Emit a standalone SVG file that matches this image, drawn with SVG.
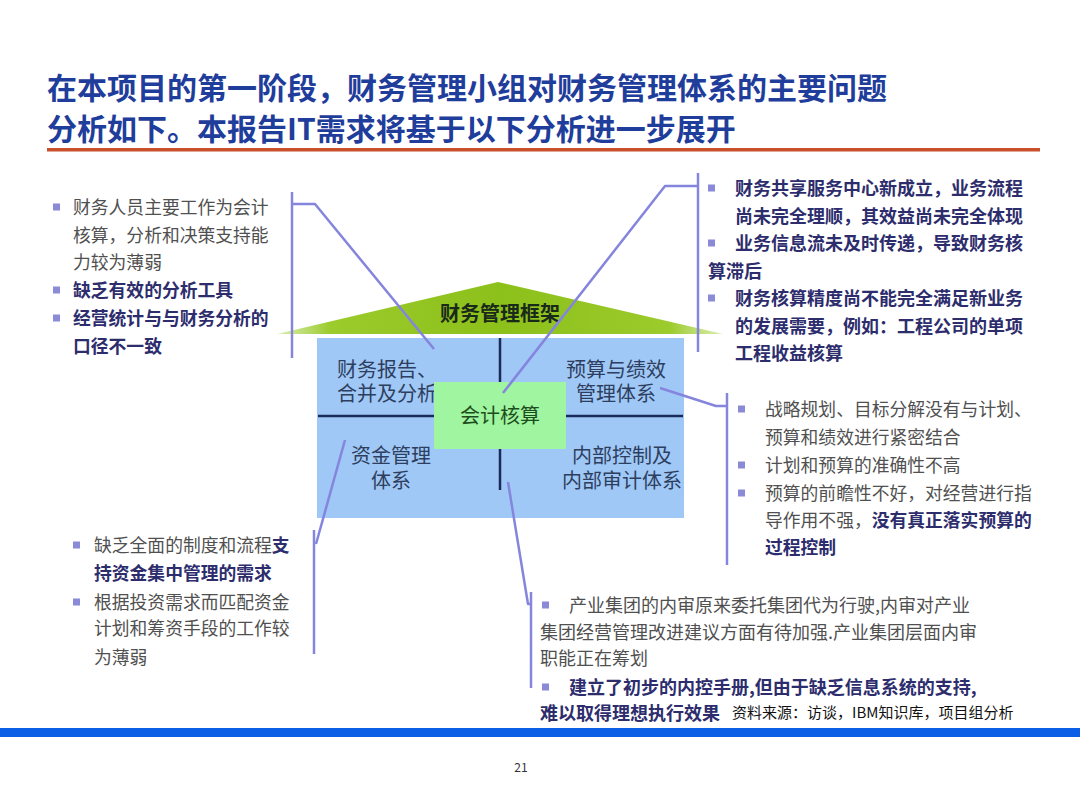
<svg xmlns="http://www.w3.org/2000/svg" width="1080" height="810" viewBox="0 0 1080 810">
<style>
.t{font-family:"Noto Sans CJK SC","Noto Sans",sans-serif}
.title{font-size:30px;font-weight:bold;fill:#1f3d9b}
.n{font-size:17.8px;fill:#505050}
.r{font-size:18px;fill:#505050}
.b{font-weight:bold;fill:#2d2d6d}
.q{font-size:20px;fill:#2e3e5e}
.conn{fill:none;stroke:#8585dd;stroke-width:2.5;stroke-linejoin:round}
.cross{stroke:#1a2a5a;stroke-width:2.5}
.bul{fill:#8a8ad8}
</style>
<defs>
<linearGradient id="roofG" x1="0" y1="0" x2="1" y2="0">
<stop offset="0" stop-color="#dcefb8"/>
<stop offset="0.12" stop-color="#9ccb2c"/>
<stop offset="0.5" stop-color="#8cc01a"/>
<stop offset="0.88" stop-color="#9ccb2c"/>
<stop offset="1" stop-color="#dcefb8"/>
</linearGradient>
</defs>
<rect width="1080" height="810" fill="#ffffff"/>

<g id="title">
<text class="t title" x="47" y="99">在本项目的第一阶段，财务管理小组对财务管理体系的主要问题</text>
<text class="t title" x="47" y="140">分析如下。本报告IT需求将基于以下分析进一步展开</text>
<rect x="47" y="148" width="993" height="3.5" fill="#c9502a"/>
</g>

<g id="framework">
<polygon id="roof" points="277,334 498,282 723,334" fill="url(#roofG)"/>
<text class="t" x="500" y="320.5" text-anchor="middle" font-size="20" font-weight="bold" fill="#1a2a1a">财务管理框架</text>
<rect id="house" x="317" y="338" width="367" height="180" fill="#9fc8f6"/>
<line class="cross" x1="500" y1="338" x2="500" y2="384"/>
<line class="cross" x1="500" y1="448" x2="500" y2="490"/>
<line class="cross" x1="318" y1="416" x2="683" y2="416"/>
<g id="q1"><text class="t q" x="337" y="376.5">财务报告、<tspan x="337" dy="24">合并及分析</tspan></text></g>
<g id="q2"><text class="t q" x="616" y="376.5" text-anchor="middle">预算与绩效<tspan x="616" dy="24">管理体系</tspan></text></g>
<g id="q3"><text class="t q" x="391" y="462.5" text-anchor="middle">资金管理<tspan x="391" dy="25">体系</tspan></text></g>
<g id="q4"><text class="t q" x="622" y="462.5" text-anchor="middle">内部控制及<tspan x="622" dy="25">内部审计体系</tspan></text></g>
<g id="center"><rect x="434" y="382" width="132" height="67" fill="#a0f5a0"/>
<text class="t" x="500" y="423" text-anchor="middle" font-size="20" fill="#1d4d1d">会计核算</text></g>
</g>

<g id="connectors">
<line class="conn" x1="292" y1="192" x2="292" y2="358"/>
<polyline class="conn" points="292,204 315,204 434,349"/>
<line class="conn" x1="698" y1="173" x2="698" y2="352"/>
<polyline class="conn" points="698,186 665,186 503,393"/>
<line class="conn" x1="727" y1="393" x2="727" y2="565"/>
<polyline class="conn" points="660,388 716,406 727,406"/>
<line class="conn" x1="314" y1="530" x2="314" y2="654"/>
<polyline class="conn" points="345,440 316,544"/>
<line class="conn" x1="531" y1="592" x2="531" y2="688"/>
<polyline class="conn" points="508,482 528,604 531,604"/>
</g>

<g id="note-left-top">
<rect class="bul" x="53" y="203.5" width="7" height="7"/>
<rect class="bul" x="53" y="286.5" width="7" height="7"/>
<rect class="bul" x="53" y="314.5" width="7" height="7"/>
<text class="t n" x="73" y="213.5">财务人员主要工作为会计</text>
<text class="t n" x="73" y="241.5">核算，分析和决策支持能</text>
<text class="t n" x="73" y="268.5">力较为薄弱</text>
<text class="t n b" x="73" y="297">缺乏有效的分析工具</text>
<text class="t n b" x="73" y="325">经营统计与与财务分析的</text>
<text class="t n b" x="73" y="352.5">口径不一致</text>
</g>

<g id="note-right-top">
<rect class="bul" x="708" y="184.5" width="7" height="7"/>
<rect class="bul" x="708" y="239.5" width="7" height="7"/>
<rect class="bul" x="708" y="294.5" width="7" height="7"/>
<text class="t r b" x="735" y="195">财务共享服务中心新成立，业务流程</text>
<text class="t r b" x="735" y="222.5">尚未完全理顺，其效益尚未完全体现</text>
<text class="t r b" x="735" y="250">业务信息流未及时传递，导致财务核</text>
<text class="t r b" x="708" y="277.5">算滞后</text>
<text class="t r b" x="735" y="305">财务核算精度尚不能完全满足新业务</text>
<text class="t r b" x="735" y="332.5">的发展需要，例如：工程公司的单项</text>
<text class="t r b" x="735" y="360">工程收益核算</text>
</g>

<g id="note-right-mid">
<rect class="bul" x="738" y="405.5" width="7" height="7"/>
<rect class="bul" x="738" y="461.5" width="7" height="7"/>
<rect class="bul" x="738" y="489.5" width="7" height="7"/>
<text class="t n" x="765" y="416" font-size="17.5">战略规划、目标分解没有与计划、</text>
<text class="t n" x="765" y="444" font-size="17.5">预算和绩效进行紧密结合</text>
<text class="t n" x="765" y="472" font-size="17.5">计划和预算的准确性不高</text>
<text class="t n" x="765" y="500" font-size="17.5">预算的前瞻性不好，对经营进行指</text>
<text class="t n" x="765" y="527" font-size="17.5">导作用不强，<tspan class="b">没有真正落实预算的</tspan></text>
<text class="t n b" x="765" y="554" font-size="17.5">过程控制</text>
</g>

<g id="note-left-bottom">
<rect class="bul" x="73" y="541.5" width="7" height="7"/>
<rect class="bul" x="73" y="598.5" width="7" height="7"/>
<text class="t n" x="94" y="552">缺乏全面的制度和流程<tspan class="b">支</tspan></text>
<text class="t n b" x="94" y="580">持资金集中管理的需求</text>
<text class="t n" x="94" y="609">根据投资需求而匹配资金</text>
<text class="t n" x="94" y="635">计划和筹资手段的工作较</text>
<text class="t n" x="94" y="664">为薄弱</text>
</g>

<g id="note-right-bottom">
<rect class="bul" x="542" y="601.5" width="7" height="7"/>
<rect class="bul" x="542" y="683.5" width="7" height="7"/>
<text class="t r" x="569" y="612">产业集团的内审原来委托集团代为行驶,内审对产业</text>
<text class="t r" x="540" y="639">集团经营管理改进建议方面有待加强.产业集团层面内审</text>
<text class="t r" x="540" y="665">职能正在筹划</text>
<text class="t r b" x="569" y="694">建立了初步的内控手册,但由于缺乏信息系统的支持,</text>
<text class="t r b" x="540" y="720">难以取得理想执行效果</text>
<text class="t" x="732" y="718" font-size="15" fill="#111111">资料来源：访谈，IBM知识库，项目组分析</text>
</g>

<g id="footer">
<rect x="0" y="728" width="1080" height="9" fill="#0b5fe6"/>
<text class="t" x="521" y="772" text-anchor="middle" font-size="12" fill="#333333">21</text>
</g>
</svg>
